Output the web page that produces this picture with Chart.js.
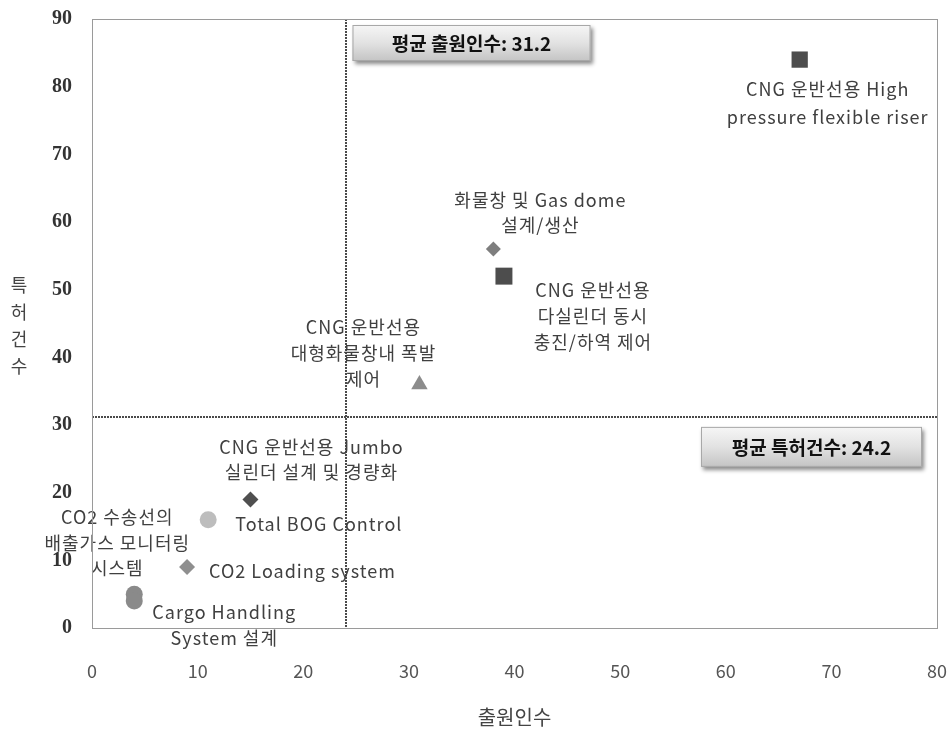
<!DOCTYPE html>
<html>
<head>
<meta charset="utf-8">
<script src="https://cdn.jsdelivr.net/npm/chart.js@4.4.1/dist/chart.umd.min.js"></script>
<style>
  html, body { margin: 0; padding: 0; background: #fff; overflow: hidden; }
  #wrap { width: 951px; height: 735px; }
</style>
</head>
<body>
<div id="wrap"><canvas id="chart"></canvas></div>
<script>
// technology areas (label lines split by \n)
const techNames = [
  'CNG 운반선용 High\npressure flexible riser',
  '화물창 및 Gas dome\n설계/생산',
  'CNG 운반선용\n다실린더 동시\n충진/하역 제어',
  'CNG 운반선용\n대형화물창내 폭발\n제어',
  'CNG 운반선용 Jumbo\n실린더 설계 및 경량화',
  'Total BOG Control',
  'CO2 Loading system',
  'CO2 수송선의\n배출가스 모니터링\n시스템',
  'Cargo Handling\nSystem 설계'
]
const applicants = [67, 38, 39, 31, 15, 11, 9, 4, 4]   // 출원인수
const patents = [84, 56, 52, 36, 19, 16, 9, 5, 4]      // 특허건수

const xTicks = [0, 10, 20, 30, 40, 50, 60, 70, 80]
const yTicks = [0, 10, 20, 30, 40, 50, 60, 70, 80, 90]

const avgLineX = 24
const avgLineY = 31.2
const avgBoxTexts = ['평균 출원인수: 31.2', '평균 특허건수: 24.2']

const xTitle = '출원인수'
const yTitle = '특허건수'

// marker styles
const markerStyles = ['rect', 'rectRot', 'rect', 'triangle', 'rectRot', 'circle', 'rectRot', 'circle', 'circle']
const markerColors = ['#4d4d4d', '#7e7e7e', '#4d4d4d', '#8c8c8c', '#4f4f4f', '#bdbdbd', '#8f8f8f', '#8a8a8a', '#8a8a8a']
const markerSizes = [11.5, 7.5, 12, 9.5, 8, 8.5, 8, 8.5, 8.5]

// label placement relative to the marker, in pixels: [dx, dy of first line, align, line height]
const labelPlacement = [
  [28, 30, 'center', 28],
  [47, -49, 'center', 25],
  [89, 14, 'center', 26],
  [-56, -57, 'center', 26],
  [61, -52, 'center', 25],
  [27, 4, 'left', 25],
  [22, 4, 'left', 25],
  [-17, -77, 'center', 25.5],
  [90, 11, 'center', 26]
]

const FONT = "'Noto Sans CJK KR', 'Noto Sans', sans-serif"
Chart.defaults.font.family = FONT

const decorations = {
  id: 'decorations',
  beforeDatasetsDraw(chart) {
    const { ctx, chartArea: a, scales: { x, y } } = chart
    ctx.save()
    ctx.strokeStyle = '#4a4a4a'
    ctx.lineWidth = 2
    ctx.setLineDash([2, 1])
    const vx = Math.round(x.getPixelForValue(avgLineX))
    const hy = Math.round(y.getPixelForValue(avgLineY))
    ctx.beginPath()
    ctx.moveTo(vx, a.top)
    ctx.lineTo(vx, a.bottom)
    ctx.moveTo(a.left, hy)
    ctx.lineTo(a.right, hy)
    ctx.stroke()
    ctx.restore()
  },
  afterDatasetsDraw(chart) {
    const { ctx, chartArea: a, scales: { x, y } } = chart

    // point labels
    ctx.save()
    ctx.fillStyle = '#404040'
    ctx.font = '18px ' + FONT
    ctx.letterSpacing = '1px'
    ctx.textBaseline = 'middle'
    techNames.forEach((name, i) => {
      const [dx, dy, align, lh] = labelPlacement[i]
      const px = x.getPixelForValue(applicants[i])
      const py = y.getPixelForValue(patents[i])
      ctx.textAlign = align
      name.split('\n').forEach((line, j) => {
        ctx.fillText(line, px + dx, py + dy + j * lh)
      })
    })
    ctx.restore()

    // average boxes
    const vx = x.getPixelForValue(avgLineX)
    const hy = y.getPixelForValue(avgLineY)
    const boxes = [
      { left: vx + 7, top: a.top + 6, w: 238, h: 36 },
      { left: a.right - 236, top: hy + 10, w: 221, h: 40 }
    ]
    boxes.forEach((b, i) => {
      ctx.save()
      const g = ctx.createLinearGradient(0, b.top, 0, b.top + b.h)
      g.addColorStop(0, '#f6f6f6')
      g.addColorStop(0.5, '#e2e2e2')
      g.addColorStop(1, '#c4c4c4')
      ctx.shadowColor = 'rgba(0,0,0,0.45)'
      ctx.shadowBlur = 4
      ctx.shadowOffsetX = 2
      ctx.shadowOffsetY = 3
      ctx.fillStyle = g
      ctx.fillRect(b.left, b.top, b.w, b.h)
      ctx.shadowColor = 'transparent'
      ctx.strokeStyle = '#a8a8a8'
      ctx.lineWidth = 1
      ctx.strokeRect(b.left + 0.5, b.top + 0.5, b.w - 1, b.h - 1)
      ctx.fillStyle = '#111'
      ctx.font = 'bold 19px ' + FONT
      ctx.textAlign = 'center'
      ctx.textBaseline = 'middle'
      ctx.fillText(avgBoxTexts[i], b.left + b.w / 2, b.top + b.h / 2 + 1)
      ctx.restore()
    })
  },
  afterDraw(chart) {
    const { ctx, chartArea: a } = chart
    ctx.save()
    ctx.strokeStyle = '#9a9a9a'
    ctx.lineWidth = 1
    ctx.strokeRect(Math.round(a.left) + 0.5, Math.round(a.top) + 0.5, Math.round(a.right - a.left), Math.round(a.bottom - a.top))

    // stacked y axis title
    ctx.fillStyle = '#444'
    ctx.font = '18px ' + FONT
    ctx.textAlign = 'center'
    ctx.textBaseline = 'middle'
    yTitle.split('').forEach((ch, i) => {
      ctx.fillText(ch, 19, 285 + i * 27)
    })
    ctx.restore()
  }
}

new Chart(document.getElementById('chart'), {
  type: 'scatter',
  data: {
    labels: techNames,
    datasets: [{
      label: '기술분야',
      data: applicants.map((v, i) => ({ x: v, y: patents[i] })),
      pointStyle: markerStyles,
      backgroundColor: markerColors,
      borderColor: markerColors,
      borderWidth: 0,
      pointRadius: markerSizes,
      pointHoverRadius: markerSizes
    }]
  },
  options: {
    responsive: true,
    maintainAspectRatio: false,
    animation: false,
    layout: { padding: { top: 19, right: 14, bottom: 0, left: 0 } },
    plugins: {
      legend: { display: false },
      tooltip: { enabled: false }
    },
    scales: {
      x: {
        type: 'linear',
        min: 0,
        max: 80,
        afterBuildTicks: scale => { scale.ticks = xTicks.map(v => ({ value: v })) },
        afterFit: scale => {
          scale.height = 107
          scale.paddingLeft = 0
          scale.paddingRight = 0
        },
        grid: { display: false, drawTicks: false },
        border: { display: false },
        ticks: { padding: 32, color: '#555', font: { size: 18, family: FONT } },
        title: {
          display: true,
          text: xTitle,
          color: '#444',
          font: { size: 20, family: FONT },
          padding: { top: 0, bottom: 6 }
        }
      },
      y: {
        type: 'linear',
        min: 0,
        max: 90,
        afterBuildTicks: scale => { scale.ticks = yTicks.map(v => ({ value: v })) },
        afterFit: scale => {
          scale.width = 92
          scale.paddingTop = 0
          scale.paddingBottom = 0
        },
        grid: { display: false, drawTicks: false },
        border: { display: false },
        ticks: { padding: 20, color: '#333', font: { size: 20, weight: 'bold', family: "'Liberation Serif', serif" } }
      }
    }
  },
  plugins: [decorations]
})
</script>
</body>
</html>
